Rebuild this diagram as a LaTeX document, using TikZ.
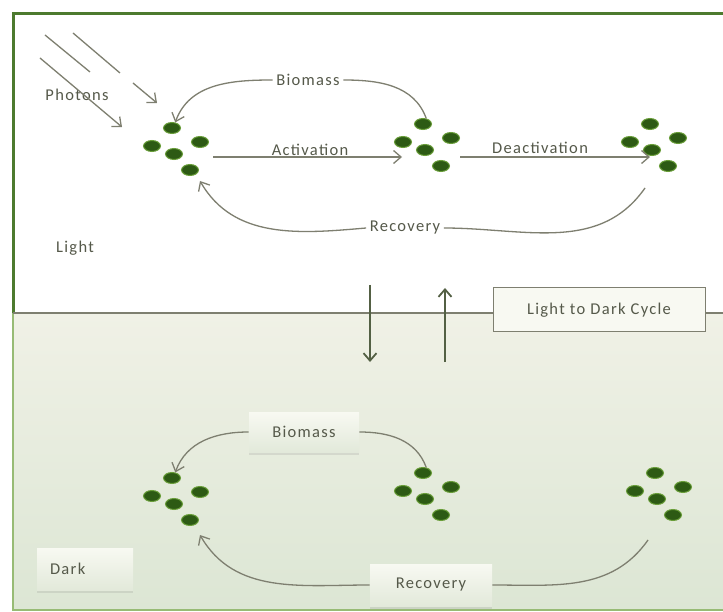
\documentclass[tikz,border=0pt]{standalone}
\usepackage{fontspec}
\setmainfont[LetterSpace=8]{Carlito}
\usetikzlibrary{arrows.meta}
\usetikzlibrary{shapes.geometric}
\usetikzlibrary{shadows}

\definecolor{leaf}{HTML}{2D5A14}
\definecolor{leafedge}{HTML}{6A9E3A}
\definecolor{frame}{HTML}{4D7A2E}
\definecolor{wirec}{HTML}{7E7F70}
\definecolor{ink}{HTML}{55594A}
\definecolor{darktop}{HTML}{F0F1E6}
\definecolor{darkbot}{HTML}{DCE6D4}
\definecolor{btntop}{HTML}{F8F9F2}
\definecolor{btnbot}{HTML}{E2E9DA}

% five algae cells, named #1t #1l #1r #1c #1b
\newcommand{\cellgroup}[2]{%
  \begin{scope}[shift={#2}]
    \node[cell] (#1t) at (0,0)   {};
    \node[cell] (#1l) at (-20,18) {};
    \node[cell] (#1r) at (28,14) {};
    \node[cell] (#1c) at (2,26)  {};
    \node[cell] (#1b) at (18,42) {};
  \end{scope}}

\begin{document}
\begin{tikzpicture}[x=1pt,y=-1pt,->,>={Straight Barb[length=7.5pt,width=13pt]},thick]
\tikzstyle{lbl}=[text=ink,font=\fontsize{16.5}{18}\selectfont]
\tikzstyle{cell}=[ellipse,fill=leaf,draw=leafedge,line width=1pt,minimum width=17pt,minimum height=11pt,inner sep=0pt]
\tikzstyle{wire}=[draw=wirec,line width=1.3pt]
\tikzstyle{vert}=[draw=ink!80!frame,line width=1.8pt]
\tikzstyle{btn}=[lbl,top color=btntop,bottom color=btnbot,drop shadow={opacity=0.18,shadow xshift=0pt,shadow yshift=-3pt}]
\tikzstyle{panel}=[-]

\useasboundingbox (0,0) rectangle (723,612);

% light and dark halves
\fill[white] (13,14) rectangle (740,313);
\shade[top color=darktop,bottom color=darkbot] (13,313) rectangle (740,610);
\draw[panel,draw=leafedge!70,line width=2pt] (13,313) -- (13,610) -- (740,610);
\draw[panel,draw=frame,line width=3pt] (13,313) -- (13,14) -- (740,14);
\draw[panel,draw=wirec,line width=1.2pt] (13,313) -- (740,313);

\cellgroup{A1}{(172,128)}
\cellgroup{A2}{(423,124)}
\cellgroup{A3}{(650,124)}
\cellgroup{A4}{(172,478)}
\cellgroup{A5}{(423,473)}
\cellgroup{A6}{(655,473)}

\node[lbl]	(ph)	at (77,95)		{Photons};
\node[lbl]	(lt)	at (75,248)		{Light};
\node[lbl]	(bmL)	at (308,80)		{Biomass};
\node[lbl]	(rcL)	at (405,228)	{Recovery};
\node[lbl]	(act)	at (310,150)	{Activation};
\node[lbl]	(dea)	at (540,148)	{Deactivation};
\node[lbl,draw=wirec,fill=btntop,line width=1pt,minimum width=212pt,minimum height=44pt]
			(cyc)	at (599,310)	{Light to Dark Cycle};
\node[btn,minimum width=110pt,minimum height=40pt]	(bmD)	at (304,432)	{Biomass};
\node[btn,minimum width=122pt,minimum height=42pt]	(rcD)	at (431,585)	{Recovery};
\node[btn,minimum width=96pt,minimum height=42pt,text width=70pt,align=left]
			(dk)	at (85,569)		{Dark};

\coordinate (actA)	at (213,157);
\coordinate (actB)	at (402,157);
\coordinate (deaA)	at (460,157);
\coordinate (deaB)	at (650,157);
\coordinate (rA1)	at (200,181);
\coordinate (rA3)	at (645,188);
\coordinate (rA4)	at (200,535);
\coordinate (rA6)	at (648,540);
\coordinate (dnA)	at (370,285);
\coordinate (dnB)	at (370,362);
\coordinate (upA)	at (445,362);
\coordinate (upB)	at (445,288);

% photons
\draw[wire,-] (45,35) -- (90,72);
\draw[wire,-] (73,33) -- (120,73);
\draw[wire] (133,83) -- (157,103);
\draw[wire] (40,58) -- (122,127);

\path(actA)		edge[wire]						(actB)
	 (deaA)		edge[wire]						(deaB)
	 (bmL.west)	edge[wire,out=180,in=70]		(A1t.60)
	 (bmL.east)	edge[wire,-,out=0,in=110]		(A2t.60)
	 (rcL.west)	edge[wire,out=185,in=-60]		(rA1)
	 (rcL.east)	edge[wire,-,out=0,in=-125]		(rA3)
	 (bmD.west)	edge[wire,out=180,in=70]		(A4t.60)
	 (bmD.east)	edge[wire,-,out=0,in=110]		(A5t.60)
	 (rcD.west)	edge[wire,out=180,in=-60]		(rA4)
	 (rcD.east)	edge[wire,-,out=0,in=-125]		(rA6)
	 (dnA)		edge[vert]						(dnB)
	 (upA)		edge[vert]						(upB);
\end{tikzpicture}
\end{document}
